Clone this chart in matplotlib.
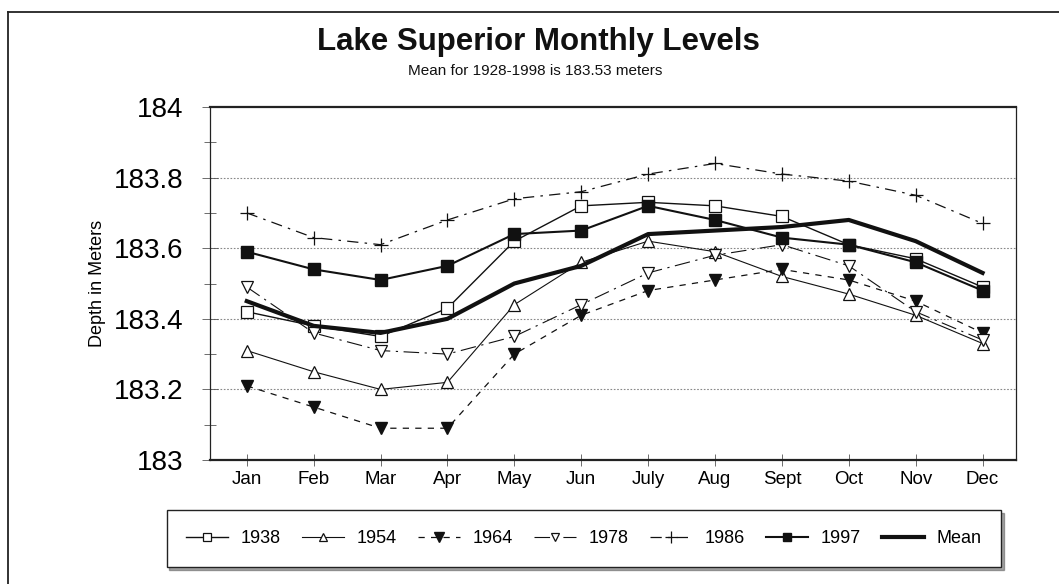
import matplotlib
matplotlib.use("Agg")
import matplotlib.pyplot as plt
from matplotlib.lines import Line2D
from matplotlib.ticker import MultipleLocator
import numpy as np

plt.rcParams['font.family'] = ['Liberation Sans', 'DejaVu Sans']

months = ["Jan", "Feb", "Mar", "Apr", "May", "Jun", "July", "Aug", "Sept", "Oct", "Nov", "Dec"]
y1938 = [183.42, 183.38, 183.35, 183.43, 183.62, 183.72, 183.73, 183.72, 183.69, 183.61, 183.57, 183.49]
y1954 = [183.31, 183.25, 183.20, 183.22, 183.44, 183.56, 183.62, 183.59, 183.52, 183.47, 183.41, 183.33]
y1964 = [183.21, 183.15, 183.09, 183.09, 183.30, 183.41, 183.48, 183.51, 183.54, 183.51, 183.45, 183.36]
y1978 = [183.49, 183.36, 183.31, 183.30, 183.35, 183.44, 183.53, 183.58, 183.61, 183.55, 183.42, 183.34]
y1986 = [183.70, 183.63, 183.61, 183.68, 183.74, 183.76, 183.81, 183.84, 183.81, 183.79, 183.75, 183.67]
y1997 = [183.59, 183.54, 183.51, 183.55, 183.64, 183.65, 183.72, 183.68, 183.63, 183.61, 183.56, 183.48]
ymean = [183.45, 183.38, 183.36, 183.40, 183.50, 183.55, 183.64, 183.65, 183.66, 183.68, 183.62, 183.53]
yticks = [183, 183.2, 183.4, 183.6, 183.8, 184]
ytick_labels = ['183', '183.2', '183.4', '183.6', '183.8', '184']

fig = plt.figure(figsize=(10.59, 5.84), dpi=100)
W, H = 1059, 584
ax = fig.add_axes([210 / W, 1 - 460 / H, (1016 - 210) / W, (460 - 107) / H])

x = np.arange(1, 13)
k = '#111111'
ax.plot(x, y1938, color=k, lw=1.0, marker='s', ms=8, mfc='white', mec=k, mew=0.9, label='1938')
ax.plot(x, y1954, color=k, lw=0.8, marker='^', ms=8, mfc='white', mec=k, mew=0.9, label='1954')
ax.plot(x, y1964, color=k, lw=0.9, ls=(0, (5, 5)), marker='v', ms=9, mfc=k, mec=k, label='1964')
ax.plot(x, y1978, color=k, lw=0.8, ls=(0, (14, 5, 2, 5)), marker='v', ms=8, mfc='white', mec=k, mew=0.9, label='1978')
ax.plot(x, y1986, color=k, lw=0.9, ls=(0, (9, 5, 2, 5)), marker='+', ms=10, mec=k, mew=0.9, label='1986')
ax.plot(x, y1997, color=k, lw=1.5, marker='s', ms=8, mfc=k, mec=k, label='1997')
ax.plot(x, ymean, color=k, lw=3.0, label='Mean')

ax.set_xlim(0.45, 12.5)
ax.set_ylim(183, 184)
ax.set_xticks(x)
ax.set_xticklabels(months, fontsize=13.5)
ax.yaxis.set_minor_locator(MultipleLocator(0.1))
ax.set_yticks(yticks)
ax.set_yticklabels(ytick_labels, fontsize=20)
ax.tick_params(axis='y', which='major', direction='inout', length=12, width=0.6, color='#555555', pad=13)
ax.tick_params(axis='y', which='minor', direction='inout', length=8, width=0.6, color='#555555')
ax.tick_params(axis='x', which='major', direction='inout', length=8, width=0.6, color='#555555', pad=4)
for yv in [183.2, 183.4, 183.6, 183.8]:
    ax.axhline(yv, color='#888888', lw=0.8, ls=(0, (1.5, 1.5)), zorder=0)
ax.set_ylabel('Depth in Meters', fontsize=13)
ax.yaxis.set_label_coords((106 - 210) / 806, 0.5)
ax.spines['top'].set_linewidth(1.6)
ax.spines['bottom'].set_linewidth(1.6)
ax.spines['left'].set_linewidth(0.9)
ax.spines['right'].set_linewidth(0.9)
for s in ax.spines.values():
    s.set_color('#222222')

fig.text(538 / W, 1 - 42 / H, 'Lake Superior Monthly Levels', ha='center', va='center',
         fontsize=22.5, fontweight='bold', color='#111111')
fig.text(535 / W, 1 - 71 / H, 'Mean for 1928-1998 is 183.53 meters', ha='center', va='center',
         fontsize=11, color='#111111')

# outer border (left and top)
fig.add_artist(Line2D([8 / W, 8 / W], [0, 1 - 12 / H], transform=fig.transFigure, color='#222222', lw=1.3))
fig.add_artist(Line2D([8 / W, 1.0], [1 - 12 / H, 1 - 12 / H], transform=fig.transFigure, color='#222222', lw=1.3))

handles, labels = ax.get_legend_handles_labels()
leg = fig.legend(handles, labels, loc='center', bbox_to_anchor=(584 / W, 1 - 538.5 / H), ncol=7,
                 fontsize=13, frameon=True, fancybox=False, shadow=True, handlelength=2.3,
                 handletextpad=0.7, columnspacing=1.2, borderpad=1.1, markerscale=0.8)
leg.get_frame().set_edgecolor('#222222')
leg.get_frame().set_linewidth(1.0)

fig.savefig('out.png', dpi=100)
